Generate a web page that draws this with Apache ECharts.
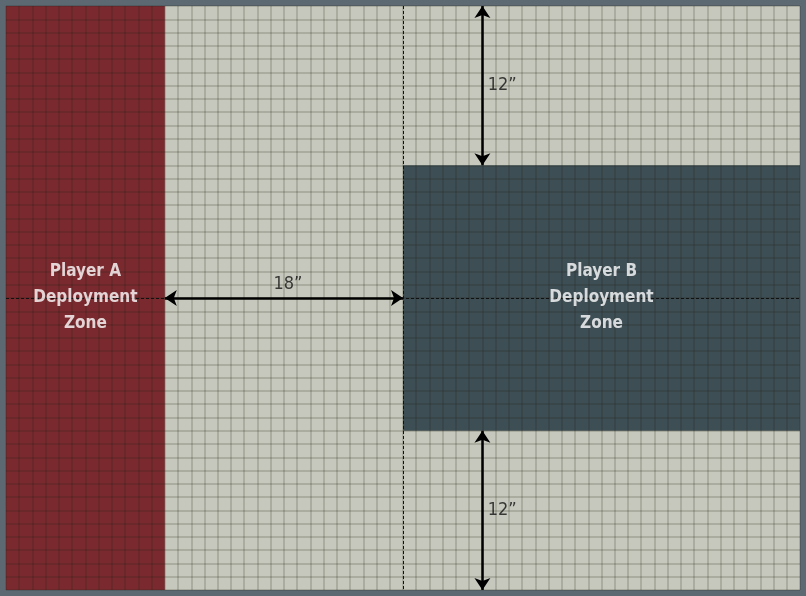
<!DOCTYPE html>
<html>
<head>
<meta charset="utf-8">
<script src="https://cdn.jsdelivr.net/npm/echarts@6/dist/echarts.min.js"></script>
<style>
  html, body { margin: 0; padding: 0; background: #5c6872; }
  #main { width: 806px; height: 596px; }
</style>
</head>
<body>
<div id="main"></div>
<script>
// board size in inches
var boardW = 60;
var boardH = 44;

// deployment zones [x1, y1, x2, y2] in inches, y measured from the top edge
var zoneA = [0, 0, 12, 44];
var zoneB = [30, 12, 60, 32];

// measurement arrows [x1, y1, x2, y2]
var arrows = [
	[36, 0, 36, 12],
	[12, 22, 30, 22],
	[36, 32, 36, 44]
];

// measurement labels [x, y, text]
var measureLabels = [
	[36.4, 6, '12”'],
	[21.3, 21, '18”'],
	[36.4, 38, '12”']
];

// zone names [x, y, text]
var zoneLabels = [
	[6, 22, 'Player A\nDeployment\nZone'],
	[45, 22, 'Player B\nDeployment\nZone']
];

// centre lines
var centreLines = [
	[30, 0, 30, 44],
	[0, 22, 60, 22]
];

var myChart = echarts.init(document.getElementById('main'));

var zoneColors = ['#7a2a2f', '#3e4e55'];

var option = {
	backgroundColor: '#5c6872',
	animation: false,
	grid: {
		left: 6, right: 6, top: 6, bottom: 6,
		show: true,
		backgroundColor: '#c7c8bd',
		borderWidth: 0
	},
	xAxis: {
		type: 'value', min: 0, max: boardW, interval: 1, z: 4,
		axisLine: { show: false }, axisTick: { show: false }, axisLabel: { show: false },
		splitLine: { show: true, lineStyle: { color: 'rgba(30,30,20,0.22)', width: 1.5 } }
	},
	yAxis: {
		type: 'value', min: 0, max: boardH, interval: 1, inverse: true, z: 4,
		axisLine: { show: false }, axisTick: { show: false }, axisLabel: { show: false },
		splitLine: { show: true, lineStyle: { color: 'rgba(30,30,20,0.22)', width: 1.5 } }
	},
	series: [
		{
			// zones
			type: 'custom',
			z: 2,
			silent: true,
			renderItem: function (params, api) {
				var p1 = api.coord([api.value(0), api.value(1)]);
				var p2 = api.coord([api.value(2), api.value(3)]);
				return {
					type: 'rect',
					shape: { x: p1[0], y: p1[1], width: p2[0] - p1[0], height: p2[1] - p1[1] },
					style: { fill: zoneColors[params.dataIndex] }
				};
			},
			data: [zoneA, zoneB]
		},
		{
			// centre dashed lines
			type: 'lines',
			coordinateSystem: 'cartesian2d',
			z: 6,
			silent: true,
			symbol: 'none',
			lineStyle: { color: '#111', width: 1, type: [3, 2], opacity: 1 },
			data: centreLines.map(function (l) { return { coords: [[l[0], l[1]], [l[2], l[3]]] }; })
		},
		{
			// arrows
			type: 'lines',
			coordinateSystem: 'cartesian2d',
			z: 8,
			silent: true,
			symbol: ['arrow', 'arrow'],
			symbolSize: 12,
			lineStyle: { color: '#000', width: 2.5, opacity: 1 },
			data: arrows.map(function (l) { return { coords: [[l[0], l[1]], [l[2], l[3]]] }; })
		},
		{
			// measurement labels
			type: 'scatter',
			z: 9,
			silent: true,
			symbolSize: 0,
			label: {
				show: true,
				position: 'inside',
				formatter: function (p) { return p.value[2]; },
				color: '#111',
				fontFamily: 'Liberation Sans Narrow, DejaVu Sans Condensed, sans-serif',
				fontSize: 18,
				align: 'left'
			},
			data: measureLabels.map(function (d, i) {
				return i === 1 ? { value: d, label: { align: 'center' } } : { value: d };
			})
		},
		{
			// zone labels
			type: 'scatter',
			z: 9,
			silent: true,
			symbolSize: 0,
			label: {
				show: true,
				position: 'inside',
				formatter: function (p) { return p.value[2]; },
				color: '#ffffff',
				fontFamily: 'DejaVu Sans Condensed, DejaVu Sans',
				fontWeight: 'bold',
				fontSize: 17,
				lineHeight: 26,
				align: 'center'
			},
			data: zoneLabels
		}
	]
};
myChart.setOption(option);
</script>
</body>
</html>
